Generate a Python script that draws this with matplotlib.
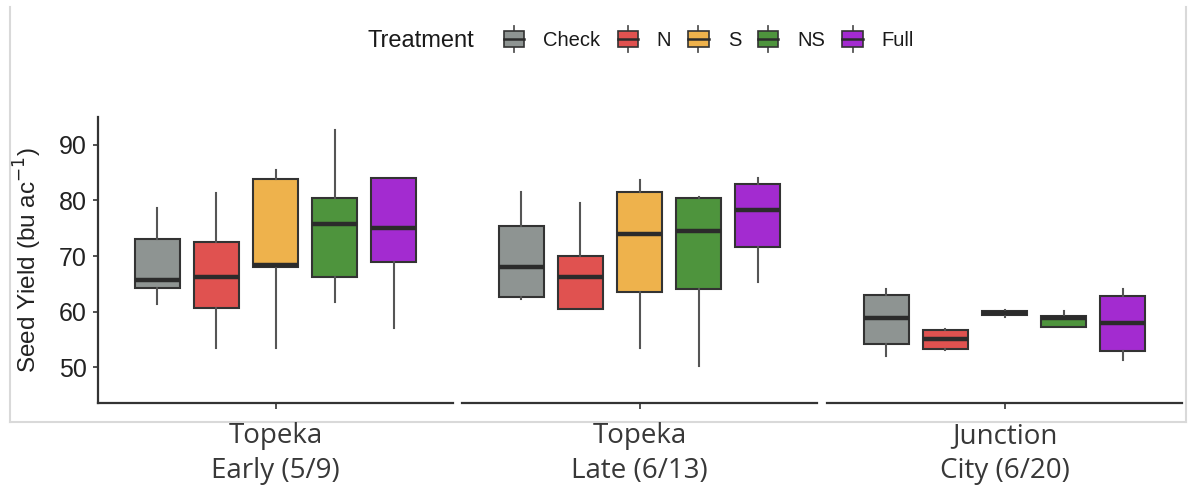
import matplotlib
matplotlib.use("Agg")
import matplotlib.pyplot as plt
import numpy as np
from matplotlib import font_manager
from matplotlib.legend_handler import HandlerBase
from matplotlib.patches import Rectangle
from matplotlib.lines import Line2D

# ---------------- data ----------------
treatments = ["Check", "N", "S", "NS", "Full"]
location_line1 = ["Topeka", "Topeka", "Junction"]
location_line2 = ["Early (5/9)", "Late (6/13)", "City (6/20)"]
colors = ["#8E9492", "#E05250", "#EEB24C", "#4E943D", "#A32BD0"]

# one row per location, one column per treatment
whisker_low = [[61.4, 53.5, 53.5, 61.7, 57.0],
               [62.3, 60.5, 53.5, 50.2, 65.3],
               [52.0, 53.2, 59.0, 57.2, 51.4]]
quartile1 = [[64.25, 60.7, 68.0, 66.2, 68.9],
             [62.7, 60.5, 63.6, 64.0, 71.7],
             [54.25, 53.35, 59.35, 57.25, 52.9]]
median = [[65.75, 66.3, 68.4, 75.7, 75.1],
          [68.1, 66.2, 74.0, 74.55, 78.3],
          [58.9, 55.15, 59.8, 58.9, 58.0]]
quartile3 = [[73.1, 72.5, 83.9, 80.4, 84.0],
             [75.45, 70.1, 81.5, 80.4, 83.0],
             [63.05, 56.8, 60.2, 59.2, 62.9]]
whisker_high = [[78.6, 81.3, 85.4, 92.6, 84.1],
                [81.5, 79.6, 83.7, 80.7, 83.95],
                [64.1, 56.9, 60.4, 60.1, 64.1]]
y_ticks = [50, 60, 70, 80, 90]

# ---------------- style ----------------
plt.rcParams['font.family'] = ['Liberation Sans', 'DejaVu Sans']
names = {f.name for f in font_manager.fontManager.ttflist}
label_font = 'Liberation Sans Narrow' if 'Liberation Sans Narrow' in names else 'Open Sans'

W, H = 1188, 495
fig = plt.figure(figsize=(W / 100, H / 100), dpi=100)

edge = "#333333"
panel_left = [98, 462, 827]
panel_w = 355
ax_top, ax_bot = 117, 403

axes = []
for i in range(3):
    ax = fig.add_axes([panel_left[i] / W, 1 - ax_bot / H, panel_w / W, (ax_bot - ax_top) / H])
    axes.append(ax)
    stats = []
    for j in range(len(treatments)):
        stats.append(dict(whislo=whisker_low[i][j], q1=quartile1[i][j], med=median[i][j],
                          q3=quartile3[i][j], whishi=whisker_high[i][j], label=treatments[j]))
    pos = np.arange(len(treatments)) - (len(treatments) - 1) / 2
    bp = ax.bxp(stats, positions=pos, widths=0.75, patch_artist=True, showfliers=False,
                showcaps=False,
                boxprops=dict(edgecolor=edge, linewidth=1.5),
                medianprops=dict(color="#2b2b2b", linewidth=3.2, solid_capstyle='butt'),
                whiskerprops=dict(color="#555555", linewidth=1.5))
    for patch, c in zip(bp['boxes'], colors):
        patch.set_facecolor(c)
    ax.set_xlim(-3.008, 3.008)
    ax.set_ylim(43.6, 95.0)
    ax.set_xticks([0])
    ax.set_xticklabels([])
    ax.tick_params(axis='x', length=4, width=1.2, color=edge)
    for s in ['top', 'right']:
        ax.spines[s].set_visible(False)
    ax.spines['bottom'].set_color(edge)
    ax.spines['bottom'].set_linewidth(1.6)
    if i == 0:
        ax.spines['left'].set_color(edge)
        ax.spines['left'].set_linewidth(1.6)
        ax.set_yticks(y_ticks)
        ax.tick_params(axis='y', length=3.5, width=1.2, color=edge, pad=4.5,
                       labelsize=18, labelcolor="#222222")
        ax.set_ylabel('Seed Yield (bu ac$^{-1}$)', fontsize=17.5, color="#222222")
        ax.yaxis.set_label_coords(-0.152, 0.5)
    else:
        ax.spines['left'].set_visible(False)
        ax.set_yticks([])
    ax.patch.set_alpha(0)

# location labels below panels
for i in range(3):
    cx = (panel_left[i] + panel_w / 2) / W
    fig.text(cx, 1 - 443 / H, location_line1[i], ha='center', va='baseline',
             fontsize=20, color="#383838", family=label_font, fontweight='medium')
    fig.text(cx, 1 - 478 / H, location_line2[i], ha='center', va='baseline',
             fontsize=20, color="#383838", family=label_font, fontweight='medium')

# light grey frame
frame_col = "#d9d9d9"
fig.add_artist(Line2D([10 / W, 10 / W], [1 - 7 / H, 1 - 421.5 / H], color=frame_col, lw=1.5))
fig.add_artist(Line2D([1186 / W, 1186 / W], [1 - 7 / H, 1 - 421.5 / H], color=frame_col, lw=1.5))
fig.add_artist(Line2D([10 / W, 1186 / W], [1 - 421.5 / H, 1 - 421.5 / H], color=frame_col, lw=1.5))


# legend with boxplot glyphs
class BoxHandler(HandlerBase):
    def create_artists(self, legend, orig_handle, xdescent, ydescent, width, height, fontsize, trans):
        c = orig_handle.get_facecolor()
        cx = -xdescent + width / 2
        cy = -ydescent + height / 2
        bh = height * 0.46
        arts = [
            Line2D([cx, cx], [cy - height * 0.72, cy + height * 0.72], color="#555555", lw=1.3, transform=trans),
            Rectangle((-xdescent, cy - bh), width, 2 * bh, facecolor=c, edgecolor=edge, lw=1.2, transform=trans),
            Line2D([-xdescent, -xdescent + width], [cy, cy], color="#2b2b2b", lw=1.8, transform=trans),
        ]
        return arts


handles = [Rectangle((0, 0), 1, 1, facecolor=c) for c in colors]
fig.text(368 / W, 1 - 41 / H, "Treatment", ha='left', va='center', fontsize=17, color="#1a1a1a")
fig.legend(handles, treatments, loc='center left', bbox_to_anchor=(504 / W, 1 - 40 / H),
           ncol=5, frameon=False, fontsize=14.5, handler_map={Rectangle: BoxHandler()},
           handlelength=1.0, handleheight=1.0, handletextpad=0.95, columnspacing=0.85,
           borderpad=0, borderaxespad=0, labelcolor="#1a1a1a")

fig.savefig("out.png", dpi=100, facecolor="white")
